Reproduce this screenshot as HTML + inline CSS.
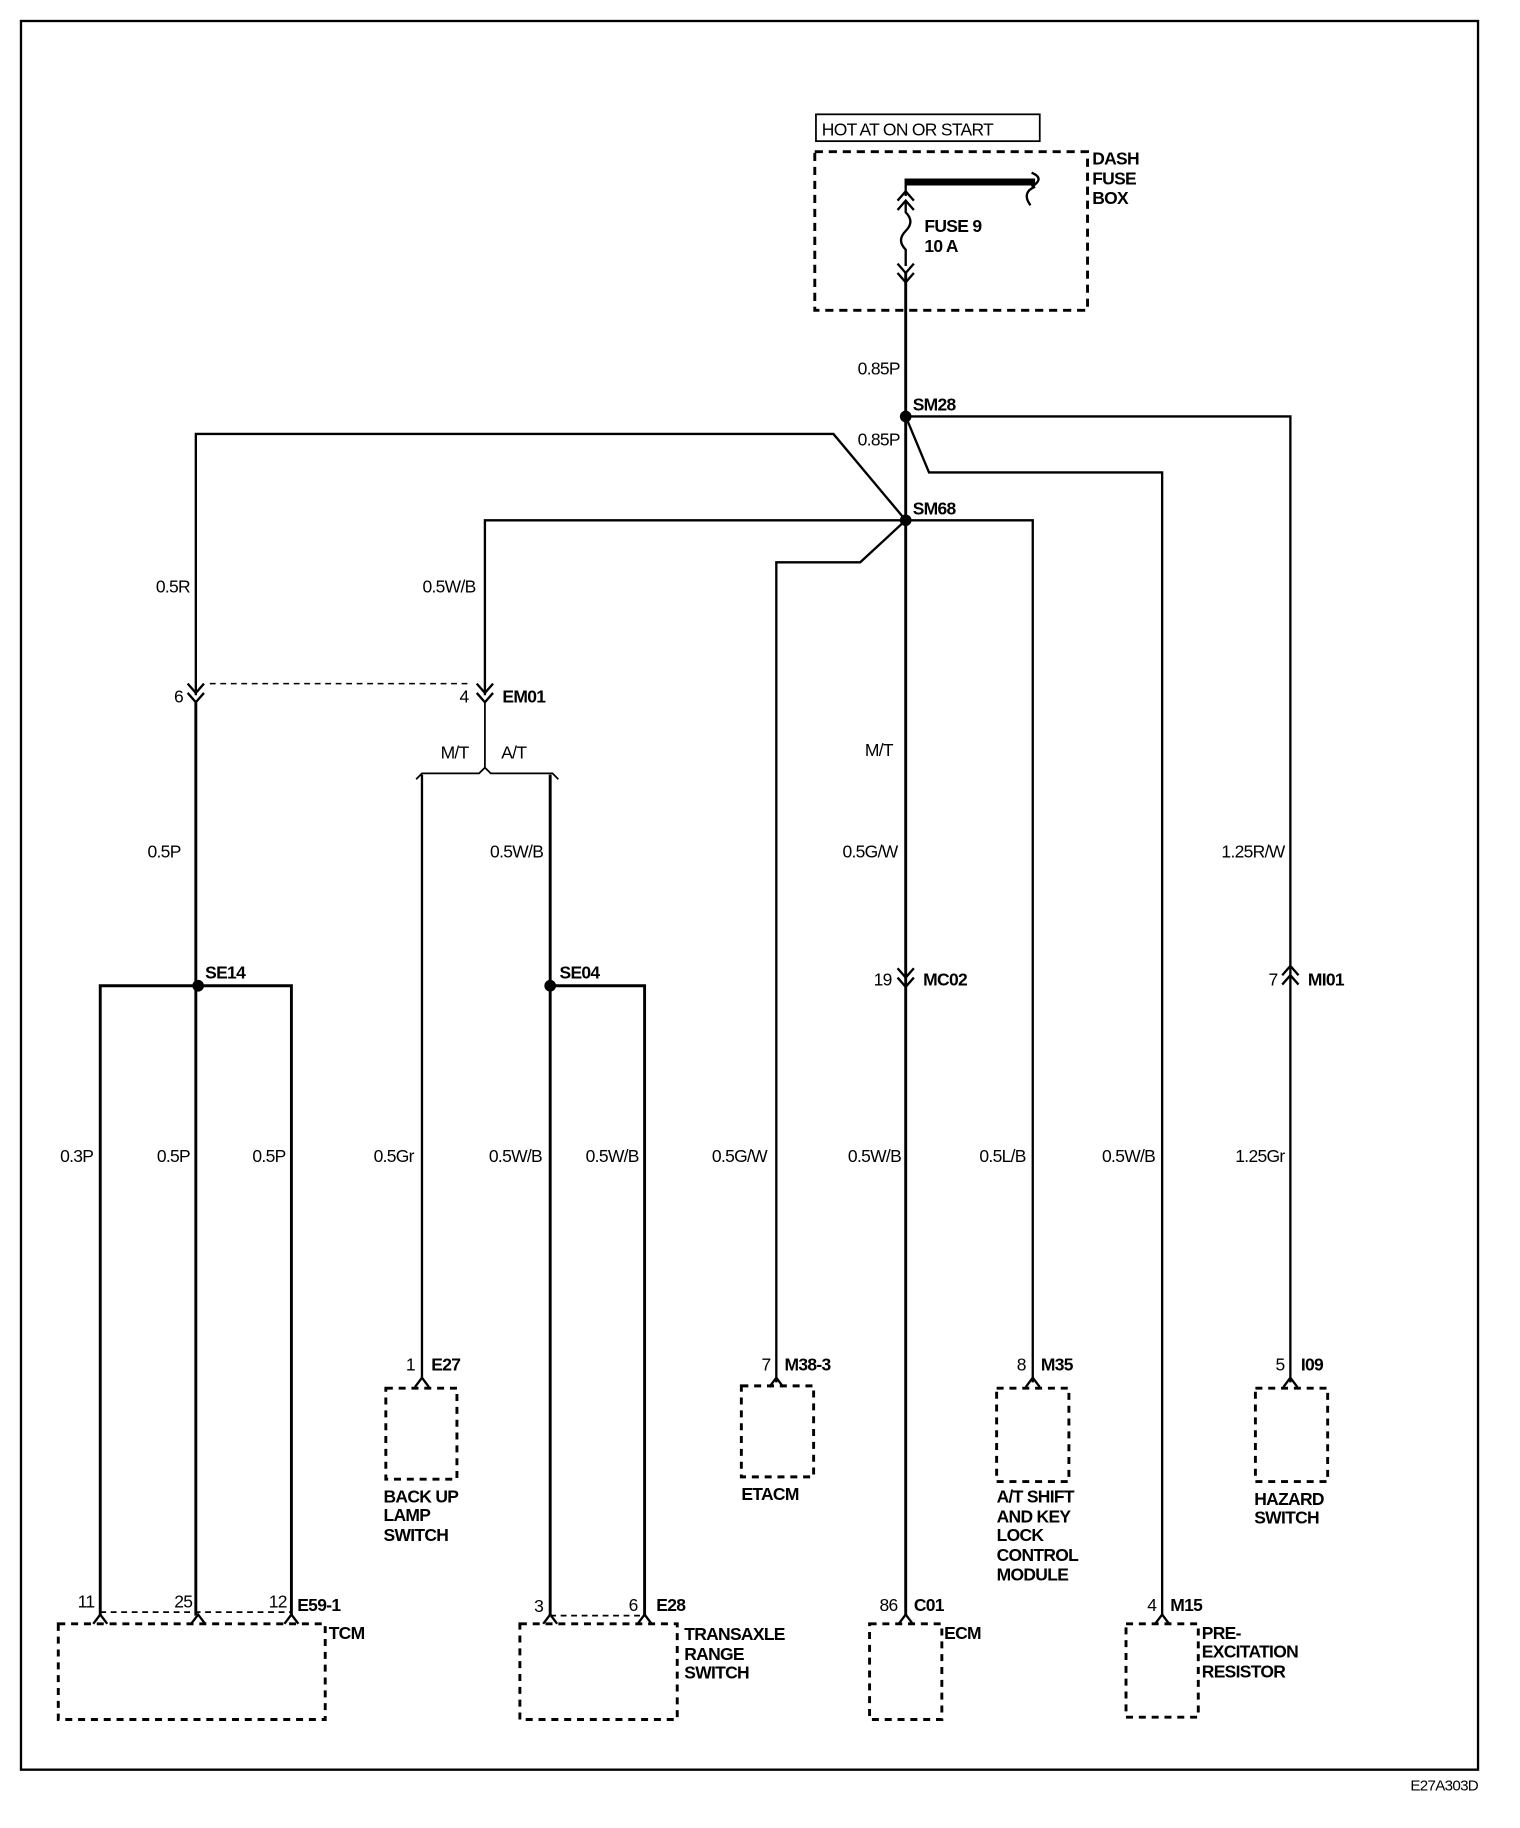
<!DOCTYPE html>
<html><head><style>html,body{margin:0;padding:0;background:#fff;width:1520px;height:1828px;overflow:hidden}svg{display:block}text{font-family:"Liberation Sans",Arial,sans-serif;font-size:15px;fill:#000;letter-spacing:-0.6px}.b{font-weight:bold}.r{text-anchor:end}</style></head><body>
<svg width="1520" height="1828" viewBox="0 0 1304 1567" preserveAspectRatio="none" xmlns="http://www.w3.org/2000/svg">
<g fill="none" stroke="#000" stroke-width="2">
<rect x="18" y="18" width="1250" height="1499"/>
<rect x="700" y="98" width="192" height="23" stroke-width="1.5"/>
<rect x="699" y="130" width="234" height="136" stroke-dasharray="7,5" stroke-width="2.5"/>
<line x1="777" y1="153" x2="777" y2="168"/>
<line x1="777" y1="156" x2="888" y2="156" stroke-width="6"/>
<path d="M885 148 q12 5 0 12"/><path d="M888 160 q-12 5 -4 16"/>
<path d="M770 172 l7-8 7 8 M770 180 l7-8 7 8"/>
<path d="M777 172 v10 q8 8 0 16 q-8 8 0 16 v14"/>
<path d="M770 226 l7 8 7-8 M770 234 l7 8 7-8"/>
<line x1="777" y1="234" x2="777" y2="1385" stroke-width="2.5"/>
<path d="M777 357 H1107 V1185"/>
<path d="M777 357 L797 405 H997 V1385"/>
<path d="M777 446 L715 372 H168 V596"/>
<path d="M777 446 H416 V596"/>
<path d="M777 446 H886 V1185"/>
<path d="M777 446 L738 482 H666 V1185"/>
<line x1="180" y1="586" x2="405" y2="586" stroke-dasharray="5,4" stroke-width="1.3"/>
<path d="M161 586 l7 8 7-8 M161 594 l7 8 7-8"/>
<path d="M409 586 l7 8 7-8 M409 594 l7 8 7-8"/>
<line x1="168" y1="602" x2="168" y2="1385" stroke-width="2.5"/>
<path d="M416 602 V658 l-5 5 H362 l-5 5 M416 658 l5 5 H474 l5 5" stroke-width="1.5"/>
<line x1="362" y1="664" x2="362" y2="1182"/>
<line x1="472" y1="664" x2="472" y2="1385" stroke-width="2.5"/>
<path d="M86 1385 V845 H250 V1385" stroke-width="2.5"/>
<path d="M472 845 H553 V1385" stroke-width="2.5"/>
<path d="M770 830 l7 8 7-8 M770 838 l7 8 7-8"/>
<path d="M1100 836 l7-8 7 8 M1100 844 l7-8 7 8"/>
<path d="M356 1189 l6-8 6 8 M660 1189 l6-8 6 8 M880 1189 l6-8 6 8 M1101 1189 l6-8 6 8"/>
<g stroke-dasharray="6,5" stroke-width="2.5">
<rect x="331" y="1190" width="61" height="78"/>
<rect x="636" y="1188" width="62" height="78"/>
<rect x="855" y="1190" width="62" height="80"/>
<rect x="1077" y="1190" width="62" height="80"/>
<rect x="50" y="1392" width="229" height="82"/>
<rect x="446" y="1392" width="135" height="82"/>
<rect x="746" y="1392" width="62" height="82"/>
<rect x="966" y="1392" width="62" height="80"/>
</g>
<path d="M86 1382 H250 M472 1385 H553" stroke-dasharray="5,4" stroke-width="1.5"/>
<path d="M80 1392 l6-8 6 8 M164 1392 l6-8 6 8 M244 1392 l6-8 6 8 M466 1392 l6-8 6 8 M547 1392 l6-8 6 8 M771 1392 l6-8 6 8 M991 1392 l6-8 6 8"/>
</g>
<g fill="#000"><circle cx="777" cy="357" r="5"/><circle cx="777" cy="446" r="5"/><circle cx="170" cy="845" r="5"/><circle cx="472" cy="845" r="5"/></g>
<text x="705" y="116">HOT AT ON OR START</text>
<g class="b">
<text x="937" y="141">DASH</text><text x="937" y="158">FUSE</text><text x="937" y="175">BOX</text>
<text x="793" y="199">FUSE 9</text><text x="793" y="216">10 A</text>
<text x="783" y="352">SM28</text><text x="783" y="441">SM68</text>
<text x="431" y="602">EM01</text><text x="176" y="839">SE14</text><text x="480" y="839">SE04</text>
<text x="792" y="845">MC02</text><text x="1122" y="845">MI01</text>
<text x="370" y="1175">E27</text><text x="673" y="1175">M38-3</text><text x="893" y="1175">M35</text><text x="1116" y="1175">I09</text>
<text x="329" y="1288">BACK UP</text><text x="329" y="1304">LAMP</text><text x="329" y="1321">SWITCH</text>
<text x="636" y="1286">ETACM</text>
<text x="855" y="1288">A/T SHIFT</text><text x="855" y="1305">AND KEY</text><text x="855" y="1321">LOCK</text><text x="855" y="1338">CONTROL</text><text x="855" y="1355">MODULE</text>
<text x="1076" y="1290">HAZARD</text><text x="1076" y="1306">SWITCH</text>
<text x="255" y="1381">E59-1</text><text x="282" y="1405">TCM</text>
<text x="563" y="1381">E28</text><text x="587" y="1406">TRANSAXLE</text><text x="587" y="1423">RANGE</text><text x="587" y="1439">SWITCH</text>
<text x="784" y="1381">C01</text><text x="810" y="1405">ECM</text>
<text x="1004" y="1381">M15</text><text x="1031" y="1405">PRE-</text><text x="1031" y="1421">EXCITATION</text><text x="1031" y="1438">RESISTOR</text>
</g>
<g class="r">
<text x="772" y="321">0.85P</text><text x="772" y="382">0.85P</text>
<text x="163" y="508">0.5R</text><text x="408" y="508">0.5W/B</text>
<text x="157" y="602">6</text><text x="402" y="602">4</text>
<text x="402" y="650">M/T</text><text x="766" y="648">M/T</text>
<text x="155" y="735">0.5P</text><text x="466" y="735">0.5W/B</text><text x="770" y="735">0.5G/W</text><text x="1102" y="735">1.25R/W</text>
<text x="765" y="845">19</text><text x="1096" y="845">7</text>
<text x="80" y="996">0.3P</text><text x="163" y="996">0.5P</text><text x="245" y="996">0.5P</text><text x="355" y="996">0.5Gr</text><text x="465" y="996">0.5W/B</text><text x="548" y="996">0.5W/B</text><text x="658" y="996">0.5G/W</text><text x="773" y="996">0.5W/B</text><text x="880" y="996">0.5L/B</text><text x="991" y="996">0.5W/B</text><text x="1102" y="996">1.25Gr</text>
<text x="356" y="1175">1</text><text x="661" y="1175">7</text><text x="880" y="1175">8</text><text x="1102" y="1175">5</text>
<text x="81" y="1378">11</text><text x="165" y="1378">25</text><text x="246" y="1378">12</text>
<text x="466" y="1382">3</text><text x="547" y="1381">6</text><text x="770" y="1381">86</text><text x="992" y="1381">4</text>
<text x="1268" y="1535" style="font-size:13px">E27A303D</text>
</g>
<text x="430" y="650">A/T</text>
</svg>
</body></html>
